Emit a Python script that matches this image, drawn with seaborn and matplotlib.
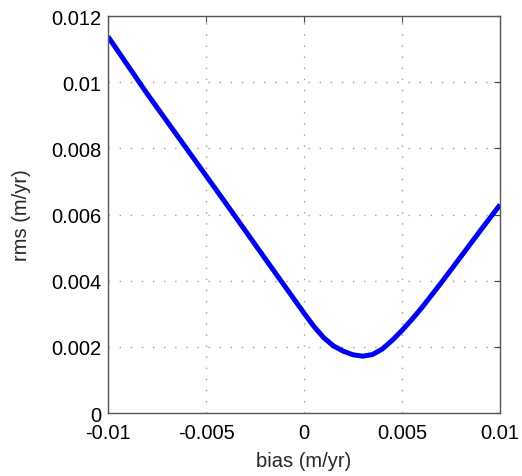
import matplotlib
matplotlib.use("Agg")
import matplotlib.pyplot as plt
import matplotlib.ticker as mticker
import seaborn as sns
import pandas as pd

# values
bias = [-0.0100, -0.0080, -0.0060, -0.0040, -0.0020, -0.0010, 0.0000,
        0.0005, 0.0010, 0.0015, 0.0020, 0.0025, 0.0030, 0.0035, 0.0040,
        0.0045, 0.0050, 0.0055, 0.0060, 0.0070, 0.0080, 0.0090, 0.0100]
rms = [0.01138, 0.00965, 0.00800, 0.00635, 0.00468, 0.00385, 0.00302,
       0.00262, 0.00228, 0.00203, 0.00187, 0.00176, 0.00172, 0.00177, 0.00194,
       0.00220, 0.00250, 0.00283, 0.00318, 0.00394, 0.00473, 0.00552, 0.00630]
xticks = [-0.01, -0.005, 0, 0.005, 0.01]
yticks = [0, 0.002, 0.004, 0.006, 0.008, 0.01, 0.012]

sns.set_style("white")
plt.rcParams["font.family"] = ["Liberation Sans", "DejaVu Sans"]

df = pd.DataFrame({"bias": bias, "rms": rms})

fig = plt.figure(figsize=(5.22, 4.77), dpi=100)
ax = fig.add_axes([0.207, 0.132, 0.751, 0.832])
sns.lineplot(data=df, x="bias", y="rms", sort=False, color="#0000f0",
             linewidth=3.6, ax=ax, solid_joinstyle="round",
             solid_capstyle="butt")

ax.set_xlim(-0.01, 0.01)
ax.set_ylim(0, 0.012)
ax.set_xticks(xticks)
ax.set_yticks(yticks)
ax.xaxis.set_major_formatter(mticker.FormatStrFormatter("%g"))
ax.yaxis.set_major_formatter(mticker.FormatStrFormatter("%g"))
ax.grid(True, linestyle=(0, (1, 7)), color="#999999", linewidth=1.0)
ax.tick_params(direction="in", length=4, width=0.8, colors="#444444",
               labelcolor="black", labelsize=14.5, top=True, right=True)
ax.tick_params(axis="x", pad=7)
ax.tick_params(axis="y", pad=5)
for s in ax.spines.values():
    s.set_color("#555555")
    s.set_linewidth(1.0)
ax.set_xlabel("bias (m/yr)", fontsize=14.5, labelpad=7)
ax.set_ylabel("rms (m/yr)", fontsize=14.5, labelpad=14)

fig.savefig("out.png", dpi=100)
